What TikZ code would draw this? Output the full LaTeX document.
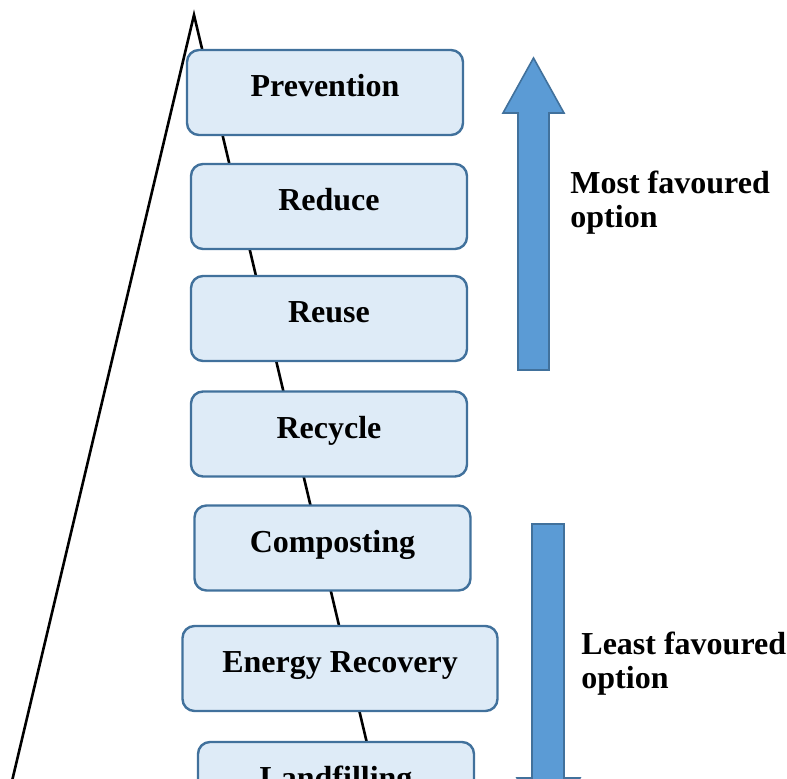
\documentclass[tikz,border=0pt]{standalone}
\usepackage{fontspec}
\setmainfont{Liberation Serif}
\definecolor{boxline}{HTML}{41719C}
\definecolor{boxfill}{HTML}{DEEBF7}
\definecolor{arrowfill}{HTML}{5B9BD5}
\tikzstyle{stage}=[draw=boxline,fill=boxfill,line width=1.2pt,rounded corners=6pt,minimum width=138pt,inner xsep=0pt,inner ysep=0pt,text height=23.5pt,text depth=19pt,font=\fontsize{16}{17}\selectfont\bfseries]
\tikzstyle{side}=[black,line width=1.3pt]
\tikzstyle{bigarrow}=[draw=boxline,fill=arrowfill,line width=0.8pt,line join=miter]
\tikzstyle{note}=[anchor=base west,align=left,inner sep=0pt,font=\fontsize{16}{17}\selectfont\bfseries]

\begin{document}
\begin{tikzpicture}[x=0.5pt,y=-0.5pt]
\useasboundingbox (0,0) rectangle (787,779);
\clip (0,0) rectangle (787,779);
\coordinate (apex) at (194,15); \coordinate (baseleft) at (0.4,830); \coordinate (baseright) at (387.6,830);
\draw[side] (baseleft) -- (apex) -- (baseright);
\node[stage] (prevention) at (325,92.5) {Prevention};
\node[stage] (reduce) at (329,206.5) {Reduce};
\node[stage] (reuse) at (329,318.5) {Reuse};
\node[stage] (recycle) at (329,434) {Recycle};
\node[stage] (composting) at (332.5,548) {Composting};
\node[stage,minimum width=157.5pt] (energy) at (340,668.5) {Energy Recovery};
\node[stage] (landfilling) at (336,784.5) {Landfilling};
\draw[bigarrow] (518,370) -- (518,113) -- (503,113) -- (533.5,58) -- (564,113) -- (549,113) -- (549,370) -- cycle;
\draw[bigarrow] (532,524) -- (532,778) -- (517,778) -- (548,833) -- (580,778) -- (564,778) -- (564,524) -- cycle;
\node[note] (most) at (570,227.5) {Most favoured\\option};
\node[note] (least) at (581,689) {Least favoured\\option};
\end{tikzpicture}
\end{document}
